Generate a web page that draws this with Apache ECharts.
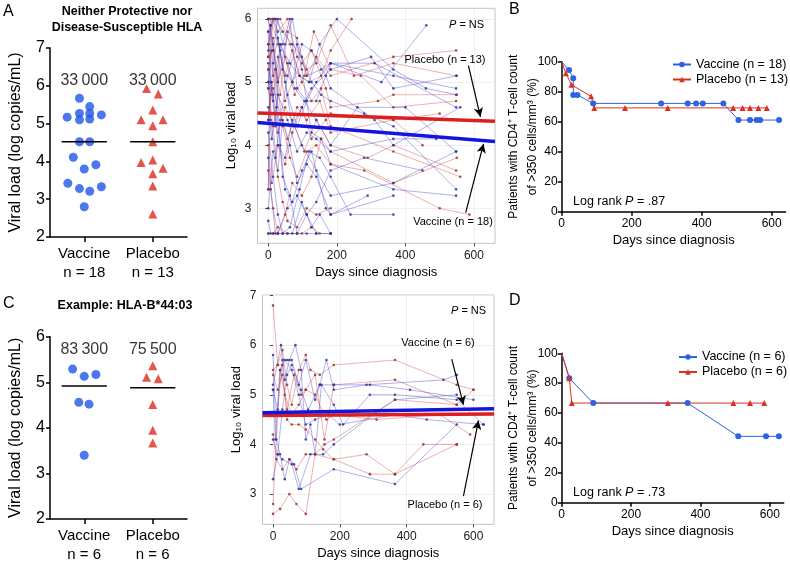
<!DOCTYPE html>
<html><head><meta charset="utf-8">
<script src="https://cdn.jsdelivr.net/npm/echarts@6/dist/echarts.min.js"></script>
<style>html,body{margin:0;padding:0;background:#fff}#c{width:790px;height:564px}</style>
</head><body><div id="c"></div>
<script>
// ---------------- DATA ----------------
const groupNames = ['Vaccine', 'Placebo'];
const aCounts = [18, 13];
const cCounts = [6, 6];
// Panel A: baseline viral load (log copies/mL) and horizontal jitter (category units)
const aVaccineVL = [5.67,5.17,5.27,5.45,5.27,5.10,5.12,5.23,4.52,4.52,4.11,3.80,3.91,3.42,3.28,3.21,3.33,2.80];
const aVaccineJitter = [-0.07,-0.25,-0.07,0.08,0.08,-0.07,0.08,0.25,-0.07,0.08,-0.16,0,0.17,-0.24,-0.07,0.08,0.25,0];
const aPlaceboVL = [5.93,5.78,5.36,5.10,5.10,4.94,4.52,4.04,3.97,3.82,3.67,3.35,2.61];
const aPlaceboJitter = [-0.09,0.08,0,-0.17,0.15,0,0,0,-0.17,0.15,0,0,0];
const aMedians = [4.52, 4.52];
const aMedianLabels = ['33\u2009000', '33\u2009000'];
// Panel C
const cVaccineVL = [5.29,5.13,5.17,4.56,4.52,3.40];
const cVaccineJitter = [-0.17,0,0.17,-0.08,0.07,0];
const cPlaceboVL = [5.36,5.11,5.08,4.51,3.95,3.67];
const cPlaceboJitter = [0,-0.09,0.08,0,0,0];
const cMedians = [4.92, 4.88];
const cMedianLabels = ['83\u2009300', '75\u2009500'];

// Spaghetti (top): per-patient [day, log10 VL]
const topVaccinePatients = [
 [[0,2.6],[14,2.6],[28,2.6],[56,2.6],[84,2.6],[112,2.6],[140,2.6],[182,2.6]],
 [[0,3.3],[7,5.9],[21,5.2],[35,4.0],[49,3.3],[70,3.1],[98,3.6],[126,3.9],[168,3.0],[182,2.9],[290,3.2]],
 [[0,5.4],[14,5.5],[28,6.0],[42,5.6],[63,6.0],[84,4.9],[112,4.7],[140,4.7],[182,5.3],[365,5.1],[548,4.9]],
 [[0,5.2],[7,4.4],[21,3.8],[35,4.4],[56,5.1],[84,5.6],[112,5.1],[154,5.2],[182,5.3],[310,5.3],[548,4.6]],
 [[0,4.9],[10,5.5],[24,4.6],[42,3.5],[63,3.2],[84,2.6],[112,2.9],[140,3.1],[182,3.6],[280,3.8],[450,3.6]],
 [[0,6.0],[14,5.6],[28,5.0],[49,5.6],[70,6.0],[98,5.2],[126,4.2],[154,4.1],[182,3.7],[365,3.3],[548,3.2]],
 [[0,4.2],[14,3.5],[28,2.9],[42,2.6],[70,2.6],[98,3.1],[126,2.7],[150,2.9],[182,2.6]],
 [[0,5.8],[7,5.0],[21,4.3],[35,5.6],[56,5.3],[77,4.9],[105,4.7],[140,4.4],[182,4.0],[260,4.6],[400,4.6],[548,3.9]],
 [[0,5.6],[14,6.0],[35,5.5],[56,4.8],[84,4.3],[112,4.7],[140,5.0],[182,5.3],[330,5.0],[461,5.9]],
 [[0,3.8],[7,3.3],[21,2.6],[42,2.6],[63,2.7],[91,3.3],[119,3.9],[150,3.8],[182,3.5],[240,2.9],[365,2.9]],
 [[0,4.4],[14,5.3],[28,5.7],[49,5.0],[70,4.3],[98,4.6],[126,4.9],[182,5.2],[300,5.4],[365,4.9],[550,5.1]],
 [[0,5.0],[14,4.8],[28,4.0],[49,3.8],[70,4.4],[98,4.0],[140,3.6],[182,3.2],[365,3.4],[548,3.9]],
 [[0,2.8],[7,2.6],[28,2.6],[56,3.0],[84,3.2],[112,2.9],[140,2.6],[182,2.6]],
 [[0,6.0],[21,6.0],[42,5.8],[70,5.6],[98,5.4],[126,5.0],[154,4.8],[182,4.7],[280,4.5],[365,4.3],[548,3.3]],
 [[0,4.6],[10,4.1],[28,4.8],[56,4.4],[84,3.9],[112,4.2],[140,4.1],[182,3.9],[365,4.1],[490,4.1]],
 [[0,5.3],[14,4.7],[35,5.6],[63,5.3],[91,5.1],[119,5.0],[150,5.6],[200,6.0],[365,5.2],[460,4.9],[550,4.8]],
 [[0,3.0],[14,3.9],[28,3.6],[42,4.4],[63,4.0],[84,3.4],[112,3.7],[140,3.5],[182,2.9],[365,3.2]],
 [[0,5.5],[7,5.9],[21,6.0],[42,5.2],[70,5.0],[98,5.6],[126,5.5],[168,5.1],[182,4.9],[310,4.4],[365,4.0],[560,4.6]]
];
const topPlaceboPatients = [
 [[0,5.8],[14,6.0],[35,6.0],[63,5.6],[91,5.1],[119,5.0],[154,5.1],[182,5.5],[243,6.0]],
 [[0,2.6],[14,2.6],[28,2.7],[56,2.6],[84,2.6],[98,2.6],[126,2.7],[150,2.6]],
 [[0,4.4],[10,5.0],[28,4.2],[49,4.6],[77,4.3],[105,3.9],[140,4.4],[182,4.0],[290,3.8],[365,4.0],[548,3.6]],
 [[0,5.6],[14,5.1],[28,5.4],[49,4.7],[70,5.0],[98,5.3],[126,5.5],[168,4.9],[182,4.6],[320,4.7],[365,4.8],[548,4.8]],
 [[0,6.0],[14,5.5],[35,4.8],[56,5.8],[84,5.7],[112,5.1],[140,5.4],[182,5.1],[365,5.4],[548,5.5]],
 [[0,3.3],[7,4.8],[21,5.2],[42,4.3],[63,3.8],[84,3.5],[112,3.9],[140,4.0],[182,3.7],[280,3.6],[500,3.0],[587,2.9]],
 [[0,4.9],[14,4.3],[28,3.5],[42,3.1],[56,2.8],[84,2.7],[112,3.0],[140,2.9],[182,3.0]],
 [[0,5.2],[14,5.7],[28,5.0],[49,5.4],[77,4.8],[105,5.1],[133,5.8],[182,5.2],[270,5.1],[365,4.6],[548,4.7]],
 [[0,4.0],[10,3.4],[28,4.0],[49,3.7],[70,4.2],[98,4.6],[126,4.1],[168,4.4],[182,4.5],[365,4.4],[500,4.5]],
 [[0,5.0],[14,6.0],[28,5.8],[56,6.0],[84,5.4],[112,5.2],[140,5.3],[182,5.9],[250,5.1],[365,5.3],[548,5.1]],
 [[0,3.6],[14,3.0],[28,2.6],[49,2.9],[70,3.4],[98,3.2],[126,3.5],[154,4.1],[182,3.9],[365,3.4],[550,3.8]],
 [[0,5.4],[7,6.0],[28,5.6],[49,5.1],[70,5.5],[98,5.0],[126,4.7],[154,4.9],[182,4.3],[365,3.9],[560,3.5]],
 [[0,4.5],[14,4.9],[35,4.5],[56,4.1],[84,4.6],[112,4.4],[150,4.7],[182,4.2],[365,4.4],[450,4.0]]
];
// Spaghetti (bottom)
const botVaccinePatients = [
 [[0,5.8],[10,4.1],[21,3.8],[35,3.3],[49,3.7],[63,3.6],[84,3.1],[182,3.5],[365,3.2],[550,4.4]],
 [[0,5.2],[24,6.0],[35,5.3],[49,5.7],[67,6.0],[84,5.5],[98,4.1],[112,4.4],[126,3.8],[145,5.2],[182,4.8],[210,4.4],[290,5.0],[365,5.0],[550,4.9],[630,4.4]],
 [[0,5.1],[14,4.7],[28,5.7],[42,5.7],[56,5.7],[77,5.2],[98,5.7],[126,4.9],[140,5.2],[160,5.7],[182,5.1],[280,5.2],[510,5.3],[550,5.4]],
 [[0,4.1],[14,3.8],[28,3.7],[56,3.6],[77,3.1],[112,3.8],[150,3.8],[182,4.0],[300,4.6],[365,4.9],[550,5.0]],
 [[0,3.3],[14,3.8],[28,4.7],[42,5.4],[56,5.6],[84,5.1],[105,4.7],[140,5.2],[182,5.2],[290,5.2],[410,5.1],[600,4.9]],
 [[0,5.1],[7,4.1],[21,5.5],[35,5.7],[56,5.5],[77,5.0],[98,4.4],[126,4.5],[165,4.6],[200,4.4],[365,4.6],[460,4.5],[630,4.4]]
];
const botPlaceboPatients = [
 [[0,6.8],[14,5.6],[28,5.6],[42,4.5],[56,4.4],[77,4.4],[98,4.3],[126,4.1],[150,3.9],[182,3.7],[290,3.4],[365,3.4],[550,4.0]],
 [[0,5.5],[14,5.6],[28,5.9],[42,5.2],[56,4.8],[77,5.5],[98,5.8],[112,5.5],[140,5.4],[182,5.6],[365,5.7],[550,5.2],[600,5.1]],
 [[0,5.4],[14,5.1],[28,5.4],[42,4.7],[63,5.4],[84,5.0],[98,5.1],[126,5.4],[154,4.1],[182,5.2],[365,5.3],[550,4.8]],
 [[0,4.2],[10,3.7],[28,3.5],[49,3.7],[70,3.5],[98,3.8],[126,3.8],[182,3.7],[280,3.8],[365,3.4],[450,4.0],[550,4.0]],
 [[0,2.8],[21,5.5],[35,5.0],[56,4.6],[77,4.8],[98,5.1],[126,5.0],[160,4.5],[182,4.6],[310,4.5],[500,4.6],[590,4.2]],
 [[0,2.6],[21,2.7],[49,3.0],[70,2.8],[98,2.6],[126,3.8],[154,4.0],[182,4.1],[365,4.9],[550,4.8],[600,5.1]]
];
// Regression lines [dayStart, dayEnd] and fitted values
const trendDays = [-31.5, 661.5];
const topVaccineTrend = [4.36, 4.06];
const topPlaceboTrend = [4.51, 4.38];
const botVaccineTrend = [4.64, 4.72];
const botPlaceboTrend = [4.58, 4.61];

// Kaplan-Meier style curves
const kmBVaccineDays = [0,21,33,33,45,90,284,360,384,403,462,505,538,557,567,621];
const kmBVaccinePct  = [100,94.4,88.9,77.8,77.8,72.2,72.2,72.2,72.2,72.2,72.2,61.1,61.1,61.1,61.1,61.1];
const kmBPlaceboDays = [0,12,28,84,93,181,303,490,517,538,562,586];
const kmBPlaceboPct  = [100,92.3,84.6,76.9,69.2,69.2,69.2,69.2,69.2,69.2,69.2,69.2];
const kmDVaccineDays = [0,22,91,363,509,589,626];
const kmDVaccinePct  = [100,83.3,66.7,66.7,44.4,44.4,44.4];
const kmDPlaceboDays = [0,22,29,306,495,543,584];
const kmDPlaceboPct  = [100,83.3,66.7,66.7,66.7,66.7,66.7];

const dayTicks = [0,200,400,600];

// ---------------- STYLE / LAYOUT ----------------
const FONT = '"Liberation Sans", Arial, Helvetica, sans-serif';
const BLUE = '#1f56e8', RED = '#dc2b1c';
const KBLUE = '#2d62e0', KRED = '#d8321f';
const grids = [
  {left:50, top:48, width:137, height:189},
  {left:257.5, top:8.3, width:237.5, height:235, show:true, borderColor:'#c4c4c4', borderWidth:1, backgroundColor:'#fff'},
  {left:561.7, top:61.7, width:224, height:150},
  {left:50, top:336.7, width:137, height:187.6},
  {left:262.5, top:295, width:231.5, height:229.3, show:true, borderColor:'#c4c4c4', borderWidth:1, backgroundColor:'#fff'},
  {left:561.7, top:353.3, width:222, height:149.4}
];
const blackLine = {color:'#000', width:1.5};

function dotX(gi, counts){
  return {type:'value', gridIndex:gi, min:0, max:2,
    axisLine:{show:true, lineStyle:blackLine},
    axisTick:{show:true, customValues:[0.5,1.5], length:5, lineStyle:blackLine},
    axisLabel:{customValues:[0.5,1.5], fontSize:15, color:'#000', fontFamily:FONT, lineHeight:19, margin:7,
      formatter:v => v < 1 ? groupNames[0]+'\nn = '+counts[0] : groupNames[1]+'\nn = '+counts[1]},
    splitLine:{show:false}};
}
function dotY(gi, min, max){
  return {type:'value', gridIndex:gi, min:min, max:max, interval:1,
    axisLine:{show:true, lineStyle:blackLine},
    axisTick:{show:true, length:4, lineStyle:blackLine},
    axisLabel:{fontSize:16, color:'#000', fontFamily:FONT, margin:5},
    splitLine:{show:false},
    name:'Viral load (log copies/mL)', nameLocation:'middle', nameGap:26,
    nameTextStyle:{fontSize:16, color:'#000', fontFamily:FONT}};
}
function spagX(gi){
  return {type:'value', gridIndex:gi, min:-31.5, max:661.5, splitNumber:7,
    axisLine:{show:false},
    axisTick:{show:true, customValues:dayTicks, length:3, lineStyle:{color:'#444'}},
    axisLabel:{customValues:dayTicks, fontSize:12, color:'#222', fontFamily:FONT, margin:6},
    splitLine:{show:true, lineStyle:{color:'#ebebeb', width:0.8}},
    name:'Days since diagnosis', nameLocation:'middle', nameGap:23,
    nameTextStyle:{fontSize:13, color:'#000', fontFamily:FONT}};
}
function spagY(gi, min, max, ticks){
  return {type:'value', gridIndex:gi, min:min, max:max, splitNumber:8,
    axisLine:{show:false},
    axisTick:{show:true, customValues:ticks, length:3, lineStyle:{color:'#444'}},
    axisLabel:{customValues:ticks, fontSize:12, color:'#222', fontFamily:FONT, margin:6},
    splitLine:{show:true, lineStyle:{color:'#ebebeb', width:0.8}},
    name:'Log\u2081\u2080 viral load', nameLocation:'middle', nameGap:20,
    nameTextStyle:{fontSize:13, color:'#000', fontFamily:FONT}};
}
function kmX(gi){
  return {type:'value', gridIndex:gi, min:0, max:640,
    axisLine:{show:true, lineStyle:blackLine},
    axisTick:{show:true, customValues:dayTicks, length:4, lineStyle:blackLine},
    axisLabel:{customValues:dayTicks, fontSize:12, color:'#000', fontFamily:FONT, margin:6},
    splitLine:{show:false},
    name:'Days since diagnosis', nameLocation:'middle', nameGap:22,
    nameTextStyle:{fontSize:13, color:'#000', fontFamily:FONT}};
}
function kmY(gi){
  return {type:'value', gridIndex:gi, min:0, max:100, interval:20,
    axisLine:{show:true, lineStyle:blackLine},
    axisTick:{show:true, length:4, lineStyle:blackLine},
    axisLabel:{fontSize:12, color:'#000', fontFamily:FONT, margin:4},
    splitLine:{show:false},
    name:'Patients with CD4\u207A T-cell count\nof >350 cells/mm\u00B3 (%)', nameLocation:'middle', nameGap:20,
    nameMoveOverlap:false,
    nameTextStyle:{fontSize:12, color:'#000', fontFamily:FONT, lineHeight:19}};
}

const xAxes = [dotX(0, aCounts), spagX(1), kmX(2), dotX(3, cCounts), spagX(4), kmX(5)];
const yAxes = [dotY(0,2,7), spagY(1,2.445,6.17,[3,4,5,6]), kmY(2), dotY(3,2,6), spagY(4,2.39,7.01,[3,4,5,6,7]), kmY(5)];

const series = [];
function addDots(gi, vals, jit, center, color, symbol){
  series.push({type:'scatter', xAxisIndex:gi, yAxisIndex:gi, symbol:symbol, symbolSize:9,
    itemStyle:{color:color}, silent:true, z:3,
    data: vals.map((v,i)=>[center + jit[i], v])});
}
function addMedian(gi, center, med, txt, labelY){
  series.push({type:'line', xAxisIndex:gi, yAxisIndex:gi, symbol:'none', silent:true, z:4,
    lineStyle:{color:'#000', width:1.5}, data:[[center-0.33, med],[center+0.33, med]]});
  series.push({type:'scatter', xAxisIndex:gi, yAxisIndex:gi, symbolSize:1, silent:true,
    itemStyle:{color:'rgba(0,0,0,0)'},
    label:{show:true, position:'inside', formatter:txt, fontSize:16, color:'#000', fontFamily:FONT},
    data:[[center, labelY]]});
}
addDots(0, aVaccineVL, aVaccineJitter, 0.5, BLUE, 'circle');
addDots(0, aPlaceboVL, aPlaceboJitter, 1.5, RED, 'triangle');
addMedian(0, 0.5, aMedians[0], aMedianLabels[0], 6.15);
addMedian(0, 1.5, aMedians[1], aMedianLabels[1], 6.15);
addDots(3, cVaccineVL, cVaccineJitter, 0.5, BLUE, 'circle');
addDots(3, cPlaceboVL, cPlaceboJitter, 1.5, RED, 'triangle');
addMedian(3, 0.5, cMedians[0], cMedianLabels[0], 5.72);
addMedian(3, 1.5, cMedians[1], cMedianLabels[1], 5.72);

function addSpag(gi, pats, lineColor, dotColor){
  pats.forEach(p => series.push({type:'line', xAxisIndex:gi, yAxisIndex:gi, silent:true, z:2,
    symbol:'circle', symbolSize:2.6, showSymbol:true,
    lineStyle:{color:lineColor, width:0.8}, itemStyle:{color:dotColor, borderWidth:0}, data:p}));
}
function interleave(gi, vp, pp){
  const n = Math.max(vp.length, pp.length);
  for (let i=0;i<n;i++){
    if (vp[i]) addSpag(gi, [vp[i]], 'rgba(60,60,205,0.5)', 'rgba(50,50,150,0.85)');
    if (pp[i]) addSpag(gi, [pp[i]], 'rgba(205,60,60,0.5)', 'rgba(150,50,50,0.85)');
  }
}
interleave(1, topVaccinePatients, topPlaceboPatients);
interleave(4, botVaccinePatients, botPlaceboPatients);

function addTrend(gi, vals, color, arrow){
  const s = {type:'line', xAxisIndex:gi, yAxisIndex:gi, symbol:'none', silent:true, z:5,
    lineStyle:{color:color, width:3.5}, data: trendDays.map((d,i)=>[d, vals[i]])};
  if (arrow) s.markLine = {silent:true, symbol:['none','arrow'], symbolSize:[7,9], animation:false,
    lineStyle:{color:'#000', width:1.2, type:'solid'}, label:{show:false},
    data:[[{coord:arrow[0]},{coord:arrow[1]}]]};
  series.push(s);
}
addTrend(1, topVaccineTrend, '#1414e0', [[576,2.93],[628,4.02]]);
addTrend(1, topPlaceboTrend, '#dc1e1e', [[584,5.26],[619,4.45]]);
addTrend(4, botPlaceboTrend, '#dc1e1e', [[570,2.96],[615,4.48]]);
addTrend(4, botVaccineTrend, '#1414e0', [[535,5.72],[570,4.80]]);

function addKM(gi, name, days, pct, color, symbol){
  series.push({type:'line', name:name, xAxisIndex:gi, yAxisIndex:gi, silent:true, z:3,
    symbol:symbol, symbolSize:6, color:color,
    lineStyle:{color:color, width:1}, itemStyle:{color:color},
    data: days.map((d,i)=> i===0 ? {value:[d,pct[i]], symbol:'none'} : [d,pct[i]])});
}
addKM(2, 'Vaccine (n = 18)', kmBVaccineDays, kmBVaccinePct, KBLUE, 'circle');
addKM(2, 'Placebo (n = 13)', kmBPlaceboDays, kmBPlaceboPct, KRED, 'triangle');
addKM(5, 'Vaccine (n = 6)', kmDVaccineDays, kmDVaccinePct, KBLUE, 'circle');
addKM(5, 'Placebo (n = 6)', kmDPlaceboDays, kmDPlaceboPct, KRED, 'triangle');

function txt(x, y, text, size, opts){
  return Object.assign({type:'text', x:x, y:y, silent:true, z:100,
    style:Object.assign({text:text, fontSize:size, fontFamily:FONT, fill:'#000', align:'left', verticalAlign:'middle',
      rich:{i:{fontStyle:'italic', fontSize:size, fontFamily:FONT}, r:{fontSize:size, fontFamily:FONT}}}, opts||{})});
}
const graphics = [
  txt(3, 12, 'A', 16), txt(509, 10, 'B', 16), txt(3, 304, 'C', 16), txt(509, 301, 'D', 16),
  txt(127, 4, 'Neither Protective nor\nDisease-Susceptible HLA', 12.5, {align:'center', fontWeight:'bold', lineHeight:15.5, verticalAlign:'top'}),
  txt(125, 306, 'Example: HLA-B*44:03', 12.5, {align:'center', fontWeight:'bold'}),
  txt(449, 25, '{i|P}{r| = NS}', 11),
  txt(445, 60, 'Placebo (n = 13)', 11, {align:'center'}),
  txt(453, 222, 'Vaccine (n = 18)', 11, {align:'center'}),
  txt(451, 311, '{i|P}{r| = NS}', 11),
  txt(438, 343, 'Vaccine (n = 6)', 11, {align:'center'}),
  txt(445, 505, 'Placebo (n = 6)', 11, {align:'center'}),
  txt(573, 202, '{r|Log rank }{i|P}{r| = .87}', 12.5),
  txt(573, 493, '{r|Log rank }{i|P}{r| = .73}', 12.5)
];

const chart = echarts.init(document.getElementById('c'), null, {renderer:'canvas'});
chart.setOption({
  animation:false,
  backgroundColor:'#fff',
  textStyle:{fontFamily:FONT},
  grid:grids,
  xAxis:xAxes,
  yAxis:yAxes,
  legend:[
    {data:['Vaccine (n = 18)','Placebo (n = 13)'], left:672, top:58, padding:0, orient:'vertical', itemWidth:18, itemHeight:7, itemGap:2,
     textStyle:{fontSize:12.5, color:'#000', fontFamily:FONT}, selectedMode:false},
    {data:['Vaccine (n = 6)','Placebo (n = 6)'], left:678, top:350.5, padding:0, orient:'vertical', itemWidth:18, itemHeight:7, itemGap:2,
     textStyle:{fontSize:12.5, color:'#000', fontFamily:FONT}, selectedMode:false}
  ],
  series:series,
  graphic:graphics
});
</script></body></html>
